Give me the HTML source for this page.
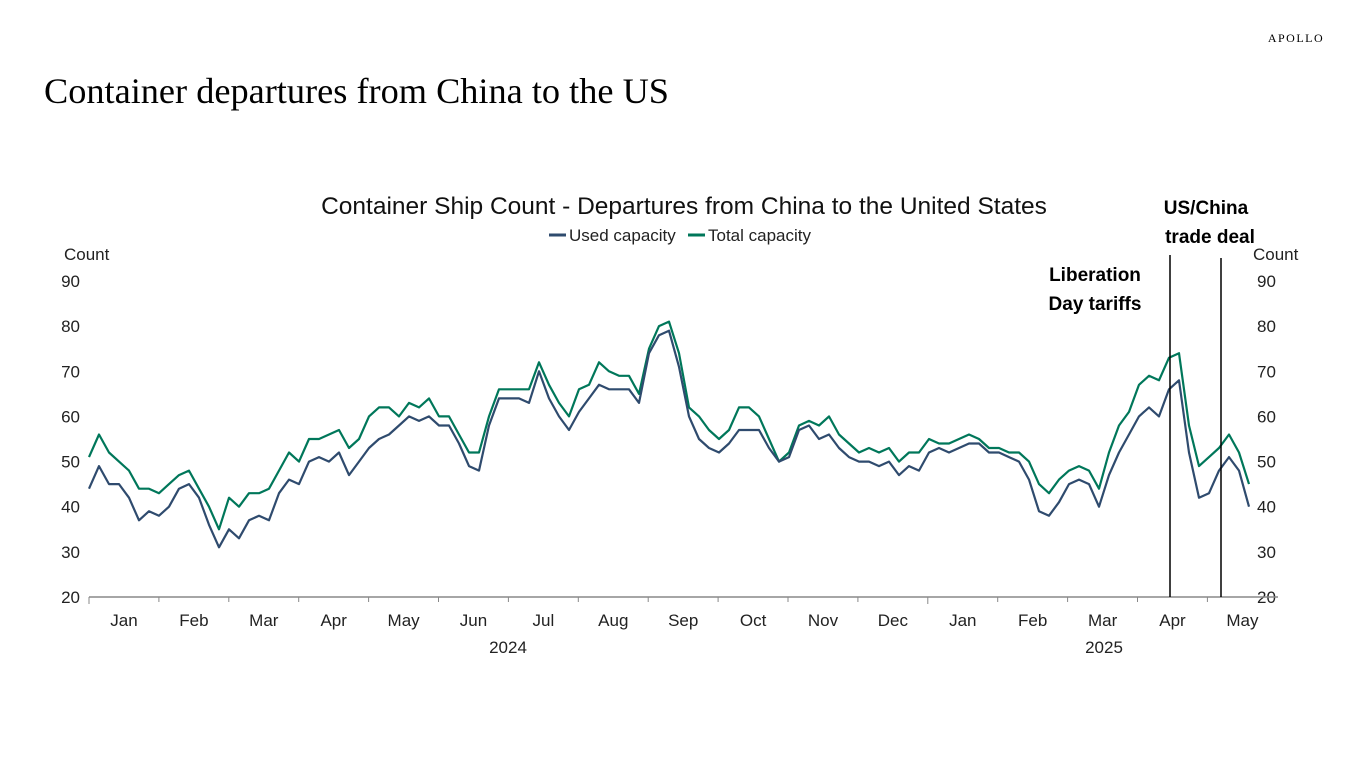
<!DOCTYPE html>
<html><head><meta charset="utf-8"><style>
body{margin:0;background:#fff;width:1366px;height:768px;overflow:hidden;font-family:"Liberation Sans",sans-serif}
svg text{font-family:"Liberation Sans",sans-serif}
</style></head><body>
<svg width="1366" height="768">
<text x="1296" y="42" font-family="Liberation Serif" font-size="12" letter-spacing="1.5" text-anchor="middle" style="font-family:'Liberation Serif',serif">APOLLO</text>
<text x="44" y="103" font-size="36.3" style="font-family:'Liberation Serif',serif">Container departures from China to the US</text>
<text x="684" y="214" font-size="24.5" text-anchor="middle" fill="#111">Container Ship Count - Departures from China to the United States</text>
<g>
<line x1="549" y1="235" x2="566" y2="235" stroke="#2f4b6e" stroke-width="3"/>
<text x="569" y="241" font-size="17" fill="#222">Used capacity</text>
<line x1="688" y1="235" x2="705" y2="235" stroke="#00775a" stroke-width="3"/>
<text x="708" y="241" font-size="17" fill="#222">Total capacity</text>
</g>
<text x="64" y="260" font-size="17" fill="#222">Count</text>
<text x="1253" y="260" font-size="17" fill="#222">Count</text>
<g id="yt"></g><g id="xt"></g><g id="series"></g>
<line x1="89" y1="597" x2="1278" y2="597" stroke="#888" stroke-width="1.5"/>
<line x1="1170" y1="255" x2="1170" y2="597" stroke="#000" stroke-width="1.5"/>
<line x1="1221" y1="258" x2="1221" y2="597" stroke="#000" stroke-width="1.5"/>
<text x="1095" y="281" font-size="19" font-weight="bold" text-anchor="middle">Liberation</text>
<text x="1095" y="310" font-size="19" font-weight="bold" text-anchor="middle">Day tariffs</text>
<text x="1206" y="214" font-size="19" font-weight="bold" text-anchor="middle">US/China</text>
<text x="1210" y="243" font-size="19" font-weight="bold" text-anchor="middle">trade deal</text>
<text x="508" y="653" font-size="17" text-anchor="middle" fill="#222">2024</text>
<text x="1104" y="653" font-size="17" text-anchor="middle" fill="#222">2025</text>
</svg>
<script>
const yTicks=[20,30,40,50,60,70,80,90];
const months=["Jan","Feb","Mar","Apr","May","Jun","Jul","Aug","Sep","Oct","Nov","Dec","Jan","Feb","Mar","Apr","May"];
const totalCap=[51,56,52,50,48,44,44,43,45,47,48,44,40,35,42,40,43,43,44,48,52,50,55,55,56,57,53,55,60,62,62,60,63,62,64,60,60,56,52,52,60,66,66,66,66,72,67,63,60,66,67,72,70,69,69,65,75,80,81,74,62,60,57,55,57,62,62,60,55,50,52,58,59,58,60,56,54,52,53,52,53,50,52,52,55,54,54,55,56,55,53,53,52,52,50,45,43,46,48,49,48,44,52,58,61,67,69,68,73,74,58,49,51,53,56,52,45];
const usedCap=[44,49,45,45,42,37,39,38,40,44,45,42,36,31,35,33,37,38,37,43,46,45,50,51,50,52,47,50,53,55,56,58,60,59,60,58,58,54,49,48,58,64,64,64,63,70,64,60,57,61,64,67,66,66,66,63,74,78,79,71,60,55,53,52,54,57,57,57,53,50,51,57,58,55,56,53,51,50,50,49,50,47,49,48,52,53,52,53,54,54,52,52,51,50,46,39,38,41,45,46,45,40,47,52,56,60,62,60,66,68,52,42,43,48,51,48,40];
const X0=89,STEP=10,Y0=597,PX=316/70;
const xs=i=>X0+i*STEP, ys=v=>Y0-(v-20)*PX;
const NS="http://www.w3.org/2000/svg";
const yt=document.getElementById('yt');
yTicks.forEach(v=>{
 [[80,'end'],[1257,'start']].forEach(([x,a],k)=>{
  const t=document.createElementNS(NS,'text');
  t.setAttribute('x',x);t.setAttribute('y',ys(v)+6);t.setAttribute('font-size','17');t.setAttribute('fill','#222');t.setAttribute('text-anchor',a);
  t.textContent=v;
  
  
  yt.appendChild(t);
 });
});
const xt=document.getElementById('xt');
months.forEach((m,i)=>{
 const x0=89+i*69.9;
 const l=document.createElementNS(NS,'line');
 l.setAttribute('x1',x0);l.setAttribute('x2',x0);l.setAttribute('y1',597);l.setAttribute('y2',i==12||i==0?604:602);l.setAttribute('stroke','#888');
 
 
 xt.appendChild(l);
 const t=document.createElementNS(NS,'text');
 t.setAttribute('x',x0+35);t.setAttribute('y',626);t.setAttribute('font-size','17');t.setAttribute('fill','#222');t.setAttribute('text-anchor','middle');
 t.textContent=m;
 
 
 xt.appendChild(t);
});
const g=document.getElementById('series');
[[totalCap,'#00775a','total-capacity-line'],[usedCap,'#2f4b6e','used-capacity-line']].forEach(([d,c,n])=>{
 const p=document.createElementNS(NS,'path');
 p.setAttribute('d',d.map((v,i)=>(i?'L':'M')+xs(i)+','+ys(v).toFixed(1)).join(''));
 p.setAttribute('fill','none');p.setAttribute('stroke',c);p.setAttribute('stroke-width','2.2');p.setAttribute('stroke-linejoin','round');
 
 
 g.appendChild(p);
});
</script>
</body></html>
